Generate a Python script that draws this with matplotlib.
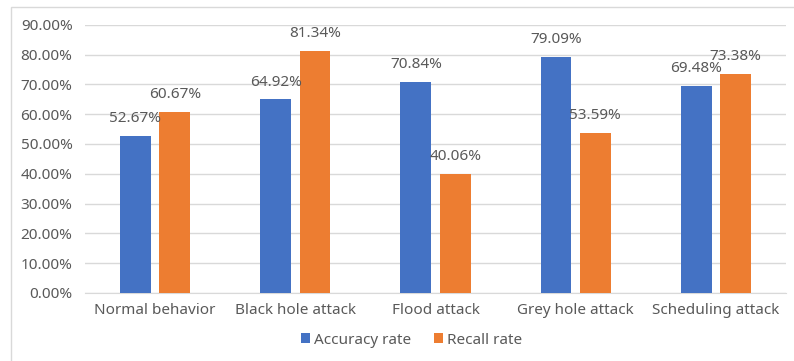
import numpy as np
import matplotlib.pyplot as plt
from matplotlib.patches import Rectangle

categories = ["Normal behavior", "Black hole attack", "Flood attack",
              "Grey hole attack", "Scheduling attack"]
accuracy = [52.67, 64.92, 70.84, 79.09, 69.48]
recall = [60.67, 81.34, 40.06, 53.59, 73.38]
yticks = [0, 10, 20, 30, 40, 50, 60, 70, 80, 90]

blue = "#4472C4"
orange = "#ED7D31"
txt = "#595959"
fs = 11

plt.rcParams['font.family'] = ['Noto Sans', 'DejaVu Sans']
plt.rcParams['font.weight'] = 'light'

fig = plt.figure(figsize=(7.94, 3.61), dpi=100)
W, H = 794, 361
ax = fig.add_axes([85 / W, 1 - 293 / H, (786 - 85) / W, (293 - 24.7) / H])

x = np.arange(len(categories))
w = 0.22
off = 0.14
b1 = ax.bar(x - off, accuracy, w, color=blue, label="Accuracy rate", zorder=3)
b2 = ax.bar(x + off, recall, w, color=orange, label="Recall rate", zorder=3)

# value labels above the bars
for bars, vals in ((b1, accuracy), (b2, recall)):
    for b, v in zip(bars, vals):
        ax.annotate("{:.2f}%".format(v), (b.get_x() + b.get_width() / 2, v),
                    xytext=(0, 12.5), textcoords="offset points",
                    ha="center", va="center", fontsize=fs, color=txt)

ax.set_xlim(-0.5, len(categories) - 0.5)
ax.set_ylim(0, 90)
ax.set_yticks(yticks)
ax.set_yticklabels(["{:.2f}%".format(t) for t in yticks], fontsize=fs, color=txt)
ax.set_xticks(x)
ax.set_xticklabels(categories, fontsize=fs, color=txt)
ax.tick_params(length=0, pad=7)
ax.tick_params(axis="y", pad=9)
ax.yaxis.grid(True, color="#d9d9d9", linewidth=1, zorder=0)
for s in ("top", "right", "left"):
    ax.spines[s].set_visible(False)
ax.spines["bottom"].set_color("#d9d9d9")

leg = fig.legend(handles=[b1, b2], loc="center", bbox_to_anchor=(412 / W, 1 - 340 / H),
                 ncol=2, frameon=False, fontsize=fs, handlelength=0.55,
                 handleheight=0.55, handletextpad=0.3, columnspacing=1.5)
for t in leg.get_texts():
    t.set_color(txt)

# outer chart border
fig.patches.append(Rectangle((11 / W, -0.01), 1.0, 1 - 6.5 / H + 0.01,
                             transform=fig.transFigure, fill=False,
                             edgecolor="#d9d9d9", linewidth=1))

fig.savefig("out.png", dpi=100)
